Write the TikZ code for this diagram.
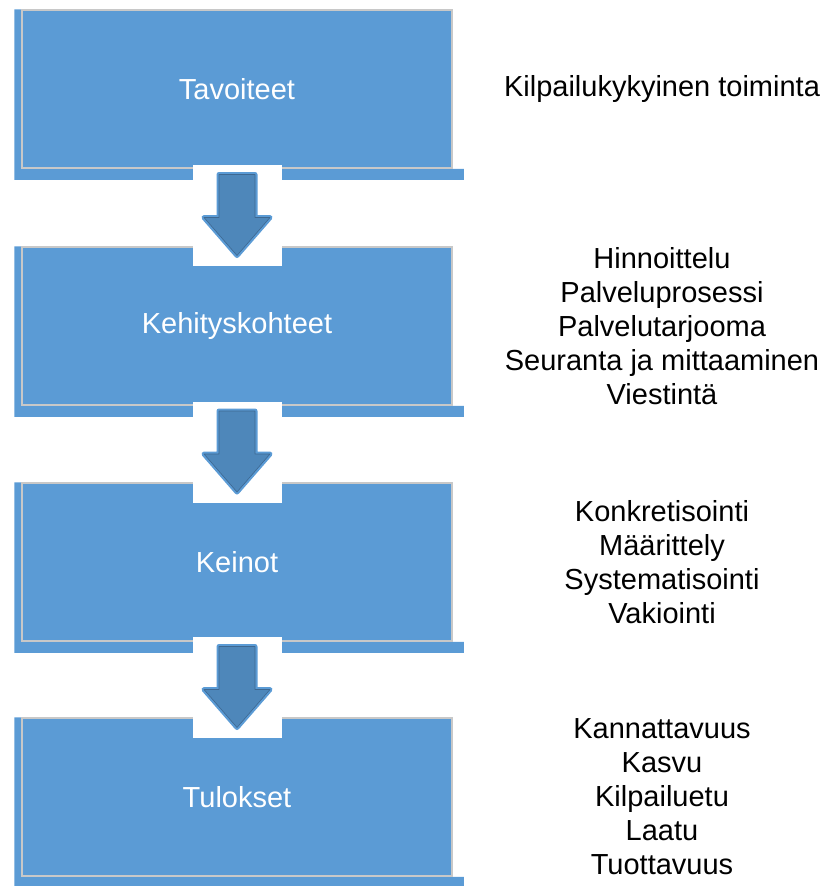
\documentclass[tikz,border=0pt]{standalone}
\usepackage{fontspec}
\setmainfont{Liberation Sans}
\usetikzlibrary{positioning, calc, backgrounds}
\definecolor{stageblue}{RGB}{91, 155, 213}
\definecolor{arrowblue}{RGB}{78, 135, 186}
\definecolor{arrowline}{RGB}{62, 104, 145}
\definecolor{rimgray}{RGB}{200, 200, 200}

\tikzset{
    stagebox/.style={fill=stageblue, draw=rimgray, line width=1.5pt, minimum width=430pt,
                     minimum height=158pt, inner sep=0pt, text=white, font=\fontsize{29}{34}\selectfont},
    stagerim/.style={fill=stageblue},
    arrowpad/.style={fill=white, minimum width=89pt, minimum height=101pt, inner sep=0pt},
    downarrow/.style={fill=arrowblue, draw=arrowline, line width=0.6pt, line join=round,
                      preaction={draw=stageblue, line width=5pt, line join=round}},
    notes/.style={align=center, font=\fontsize{29}{34}\selectfont}
}

\begin{document}
\begin{tikzpicture}[x=1pt, y=-1pt]
            \useasboundingbox (0,0) rectangle (825,886);

            % stages
            \node[stagebox] (tav) at (237,89) {Tavoiteet};
            \node[stagebox] (keh) at (237,326) {Kehityskohteet};
            \node[stagebox] (kei) at (237,562) {Keinot};
            \node[stagebox] (tul) at (237,797) {Tulokset};

            \begin{scope}[on background layer]
                \foreach \s in {tav, keh, kei, tul}{
                    \fill[stagerim] ($(\s.north west)+(-7,0)$) |- ($(\s.south east)+(11,11)$)
                        |- (\s.south west) -- (\s.north west) -- cycle;
                }
            \end{scope}

            % arrows between stages
            \node[arrowpad] (p1) at ($(tav.south)!0.5!(keh.north)+(0,8)$) {};
            \node[arrowpad] (p2) at ($(keh.south)!0.5!(kei.north)+(0,8)$) {};
            \node[arrowpad] (p3) at ($(kei.south)!0.5!(tul.north)+(0,8)$) {};
            \foreach \p in {p1, p2, p3}{
                \draw[downarrow] ($(\p.center)+(-18,-41)$) -- ++(36,0) -- ++(0,43) -- ++(15,0)
                    -- ++(-33,38) -- ++(-33,-38) -- ++(15,0) -- cycle;
            }

            % notes
            \node[notes] (n1) at (662,89) {Kilpailukykyinen toiminta};
            \node[notes] (n2) at (662,326) {Hinnoittelu\\Palveluprosessi\\Palvelutarjooma\\Seuranta ja mittaaminen\\Viestintä};
            \node[notes] (n3) at (662,562) {Konkretisointi\\Määrittely\\Systematisointi\\Vakiointi};
            \node[notes] (n4) at (662,797) {Kannattavuus\\Kasvu\\Kilpailuetu\\Laatu\\Tuottavuus};
        \end{tikzpicture}
\end{document}
